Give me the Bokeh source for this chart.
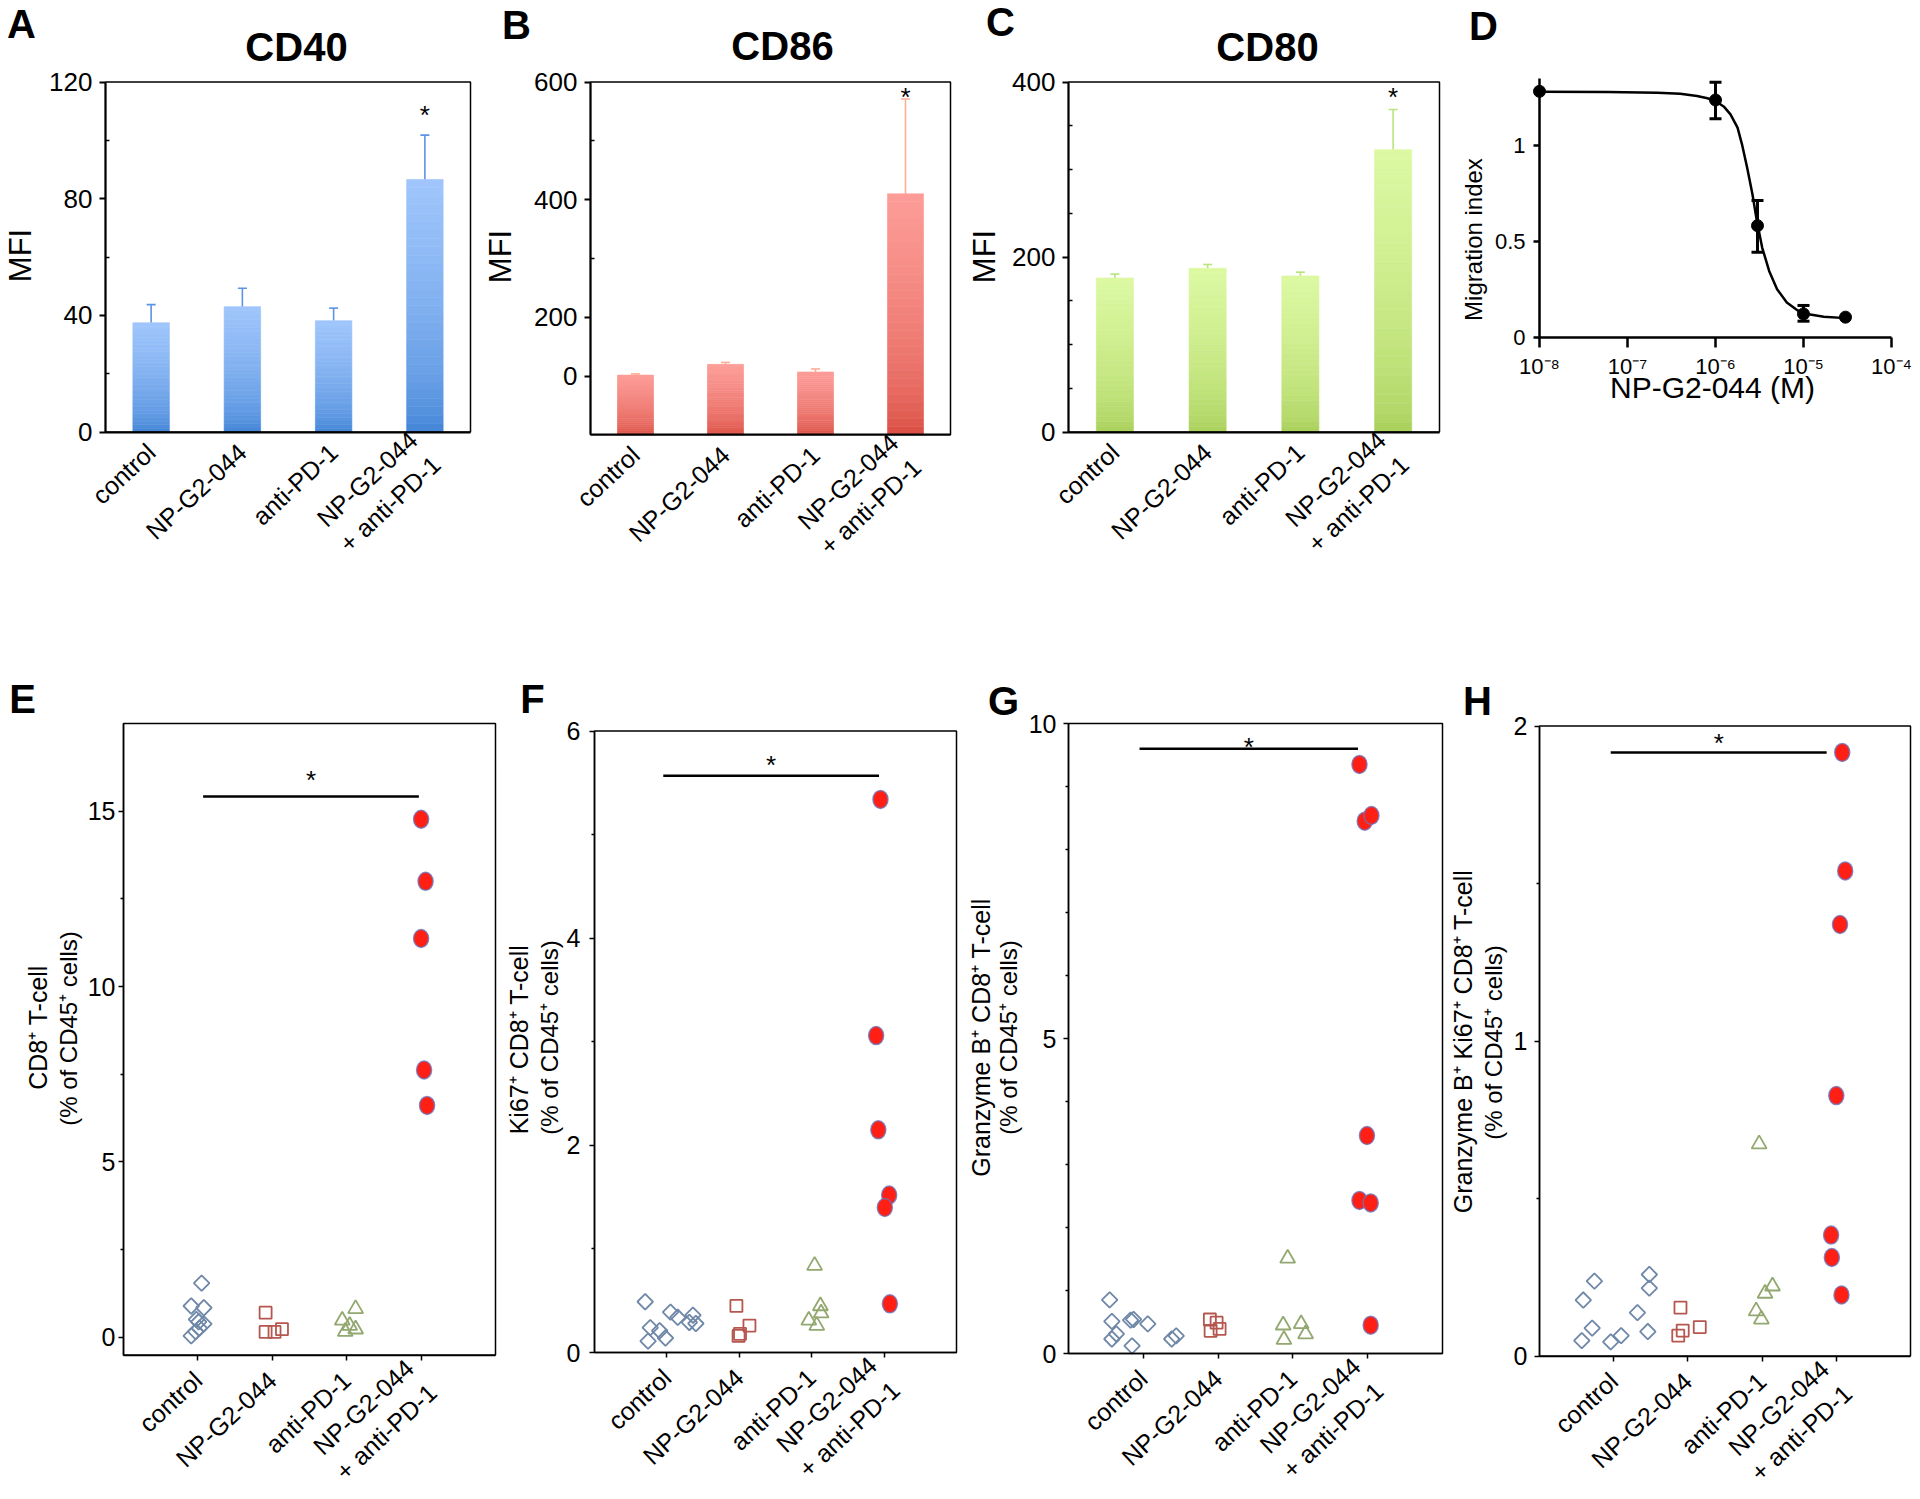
import math
from bokeh.plotting import figure
from bokeh.models import (FixedTicker, Label, Whisker, TeeHead, ColumnDataSource, Range1d,
                          BoxAnnotation)
from bokeh.layouts import row, column
from bokeh.embed import file_html
from bokeh.resources import INLINE
from bokeh.core.properties import value

# ---------------- data ----------------
groups = ["control", "NP-G2-044", "anti-PD-1", "NP-G2-044\n+ anti-PD-1"]

# A-C: mean MFI and upper end of the error bar
cd40_mfi = [37.5, 43.0, 38.2, 86.6]
cd40_upper = [43.7, 49.3, 42.5, 101.8]
cd86_mfi = [101.6, 119.8, 106.9, 409.8]
cd86_upper = [103.6, 123.1, 112.0, 571.2]
cd80_mfi = [176.1, 187.1, 178.4, 322.6]
cd80_upper = [180.6, 191.5, 182.7, 368.5]
cd86_tick_values = [100, 200, 400, 600]
cd86_tick_labels = ["0", "200", "400", "600"]

# D: migration index vs concentration
d_conc = [1e-8, 1e-6, 3e-6, 1e-5, 3e-5]
d_index = [1.283, 1.238, 0.583, 0.123, 0.106]
d_err_conc = [1e-6, 3e-6, 1e-5]
d_err_low = [1.14, 0.444, 0.085]
d_err_high = [1.33, 0.714, 0.167]
d_fit_conc = [1e-8, 5.9e-8, 2.19e-7, 3.98e-7, 6.17e-7, 8.1e-7, 1e-6, 1.26e-6, 1.48e-6,
              1.78e-6, 2.0e-6, 2.29e-6, 2.63e-6, 2.95e-6, 3.39e-6, 4.07e-6, 5.01e-6,
              6.46e-6, 8.51e-6, 1.1e-5, 1.7e-5, 3.0e-5]
d_fit_index = [1.281, 1.28, 1.276, 1.271, 1.259, 1.247, 1.233, 1.201, 1.163, 1.094, 1.007,
               0.885, 0.747, 0.608, 0.469, 0.347, 0.252, 0.182, 0.142, 0.122, 0.108, 0.101]
d_ticks = [1e-8, 1e-7, 1e-6, 1e-5, 1e-4]
d_tick_labels = ["10⁻⁸", "10⁻⁷", "10⁻⁶", "10⁻⁵", "10⁻⁴"]

# E-H: per group, horizontal jitter (in category units) and values
e_jitter = [[0.05, -0.09, 0.08, -0.02, 0.08, 0.02, -0.03, -0.09, 0.01],
            [-0.09, -0.09, 0.03, 0.13],
            [0.12, -0.06, 0.04, -0.02, 0.12],
            [0.0, 0.06, 0.0, 0.04, 0.08]]
e_values = [[1.54, 0.89, 0.84, 0.51, 0.38, 0.26, 0.16, 0.04, 0.44],
            [0.70, 0.15, 0.15, 0.23],
            [0.81, 0.48, 0.33, 0.16, 0.23],
            [14.77, 13.0, 11.37, 7.62, 6.61]]
f_jitter = [[-0.30, -0.23, -0.26, -0.10, -0.02, 0.05, 0.15, 0.36, 0.31, 0.40],
            [-0.04, 0.01, -0.01, 0.14],
            [0.04, 0.12, 0.13, -0.04, 0.07],
            [-0.05, -0.11, -0.08, 0.07, 0.01, 0.08]]
f_values = [[0.49, 0.24, 0.11, 0.21, 0.14, 0.39, 0.34, 0.36, 0.29, 0.28],
            [0.45, 0.18, 0.16, 0.26],
            [0.84, 0.45, 0.38, 0.31, 0.26],
            [5.34, 3.06, 2.15, 1.52, 1.40, 0.47]]
g_jitter = [[-0.45, -0.42, -0.36, -0.42, -0.17, -0.13, -0.15, 0.06, 0.38, 0.44],
            [-0.11, -0.02, 0.02, -0.10],
            [-0.07, -0.13, -0.12, 0.11, 0.17],
            [-0.11, -0.04, 0.05, -0.01, -0.11, 0.04, 0.04]]
g_values = [[0.85, 0.51, 0.31, 0.23, 0.53, 0.54, 0.12, 0.47, 0.23, 0.28],
            [0.54, 0.49, 0.39, 0.36],
            [1.51, 0.45, 0.22, 0.47, 0.31],
            [9.35, 8.45, 8.54, 3.46, 2.43, 2.39, 0.45]]
h_jitter = [[-0.43, -0.41, -0.29, -0.26, -0.04, 0.10, 0.32, 0.46, 0.48, 0.48],
            [-0.10, -0.07, -0.13, 0.16],
            [-0.04, 0.14, 0.04, -0.08, -0.01],
            [0.08, 0.12, 0.05, 0.00, -0.07, -0.06, 0.07]]
h_values = [[0.049, 0.178, 0.089, 0.238, 0.045, 0.065, 0.138, 0.078, 0.259, 0.216],
            [0.154, 0.081, 0.065, 0.092],
            [0.673, 0.222, 0.199, 0.143, 0.117],
            [1.916, 1.540, 1.370, 0.827, 0.384, 0.313, 0.194]]
# significance bar: [from, to, height, star height]
e_sig = [1.07, 3.97, 15.42, 16.05]
f_sig = [0.95, 3.93, 5.57, 5.73]
g_sig = [0.95, 3.87, 9.60, 9.72]
h_sig = [0.96, 3.87, 1.916, 1.966]

# ---------------- style / layout ----------------
FONT = "Liberation Sans"
Y1, H1 = 0, 600
Y2, H2 = Y1 + H1, 899
NSEG = 30


def hex2rgb(h):
    return tuple(int(h[i:i + 2], 16) for i in (1, 3, 5))


def mix(c0, c1, t):
    a, b = hex2rgb(c0), hex2rgb(c1)
    return "#%02x%02x%02x" % tuple(round(a[i] + (b[i] - a[i]) * t) for i in range(3))


class Panel:
    """A figure whose frame fills its canvas; the plot box (page px) maps to data bounds."""

    def __init__(self, cx0, cw, cy0, ch, box, xb, yb, xlog=False):
        l, r, t, b = box
        self.xlog = xlog
        X0, X1 = (math.log10(xb[0]), math.log10(xb[1])) if xlog else xb
        sx = (X1 - X0) / (r - l)
        xs, xe = X0 - (l - cx0) * sx, X1 + (cx0 + cw - r) * sx
        sy = (yb[1] - yb[0]) / (b - t)
        ys, ye = yb[0] - (cy0 + ch - b) * sy, yb[1] + (t - cy0) * sy
        self.cx0, self.cy0, self.cw, self.ch = cx0, cy0, cw, ch
        self.X = (xs, xe)
        self.Y = (ys, ye)
        if xlog:
            xs, xe = 10 ** xs, 10 ** xe
        p = figure(width=cw, height=ch, x_range=Range1d(xs, xe), y_range=Range1d(ys, ye),
                   x_axis_type="log" if xlog else "linear", output_backend="svg",
                   toolbar_location=None, tools="", min_border=0, min_border_left=0,
                   min_border_right=0, min_border_top=0, min_border_bottom=0)
        p.title.visible = False
        p.xgrid.visible = False
        p.ygrid.visible = False
        p.outline_line_color = None
        p.background_fill_color = "white"
        p.border_fill_color = "white"
        self.p = p
        self.xb, self.yb = xb, yb
        xa, ya = p.xaxis[0], p.yaxis[0]
        xa.fixed_location = yb[0]
        xa.bounds = xb
        ya.fixed_location = xb[0]
        ya.bounds = yb

    def box(self):
        self.p.add_layout(BoxAnnotation(left=self.xb[0], right=self.xb[1], bottom=self.yb[0],
                                        top=self.yb[1], fill_alpha=0, line_color="black",
                                        line_width=1.5, line_alpha=1))

    def text(self, px, py, text, size, bold=False, angle=0.0):
        fx = (px - self.cx0) / self.cw
        fy = (self.cy0 + self.ch - py) / self.ch
        x = self.X[0] + fx * (self.X[1] - self.X[0])
        if self.xlog:
            x = 10 ** x
        y = self.Y[0] + fy * (self.Y[1] - self.Y[0])
        self.p.add_layout(Label(x=x, y=y, text=text, text_font=FONT,
                                text_font_size=f"{size}px",
                                text_font_style="bold" if bold else "normal",
                                text_align="center", text_baseline="middle", angle=angle,
                                text_color="black"))


def style_y(ax, ticks, minor, size, standoff, tick_out=6, minor_in=0, minor_out=3, lw=2):
    ax.ticker = FixedTicker(ticks=ticks, minor_ticks=minor)
    ax.major_label_text_font = FONT
    ax.major_label_text_font_size = f"{size}px"
    ax.major_label_text_color = "black"
    ax.major_tick_out = tick_out
    ax.major_tick_in = 0
    ax.minor_tick_out = minor_out
    ax.minor_tick_in = minor_in
    ax.axis_line_width = lw
    ax.major_tick_line_width = lw
    ax.minor_tick_line_width = 1.5
    ax.axis_line_color = "black"
    ax.major_label_standoff = standoff


def style_x_cat(ax, orient, size, standoff, tick_out, lw=2):
    ax.ticker = FixedTicker(ticks=[1, 2, 3, 4])
    ax.major_label_overrides = {i + 1: g for i, g in enumerate(groups)}
    ax.major_label_orientation = orient
    ax.major_label_text_font = FONT
    ax.major_label_text_font_size = f"{size}px"
    ax.major_label_text_color = "black"
    ax.major_tick_out = tick_out
    ax.major_tick_in = 0
    ax.minor_tick_out = 0
    ax.minor_tick_in = 0
    ax.major_tick_line_width = lw
    ax.axis_line_width = lw
    ax.axis_line_color = "black"
    ax.major_label_standoff = standoff


def bar_panel(x0, w, box, yb, yticks, yminor, means, uppers, c_bot, c_top, c_err, star_y,
              letter, letter_xy, title, title_xy, ylab_xy, overrides=None):
    P = Panel(x0, w, Y1, H1, box, (0.5, 4.5), yb)
    p = P.p
    P.box()
    xs = [1, 2, 3, 4]
    base = yb[0]
    bx, bb, bt, bc = [], [], [], []
    for x, v in zip(xs, means):
        for k in range(NSEG):
            bx.append(x)
            bb.append(base + (v - base) * k / NSEG)
            bt.append(base + (v - base) * (k + 1) / NSEG)
            bc.append(mix(c_bot, c_top, ((k + 0.5) / NSEG) ** 0.55))
    p.vbar(x=bx, bottom=bb, top=bt, width=0.4, fill_color=bc, line_color=bc, line_width=0.6)
    src = ColumnDataSource(dict(x=xs, lo=means, hi=uppers))
    p.add_layout(Whisker(source=src, base="x", lower="lo", upper="hi", dimension="height",
                         line_color=c_err, line_width=1.6, lower_head=None,
                         upper_head=TeeHead(size=9, line_color=c_err, line_width=1.6)))
    p.text(x=[4], y=[star_y], text=["*"], text_font=value(FONT), text_font_size="26px",
           text_align="center", text_baseline="middle", y_offset=6, text_color="black")
    style_y(p.yaxis[0], yticks, yminor, 26, 7, tick_out=6, minor_in=4, minor_out=0)
    if overrides:
        p.yaxis[0].major_label_overrides = overrides
    style_x_cat(p.xaxis[0], 0.75, 25, 16, 0)
    P.text(letter_xy[0], letter_xy[1], letter, 40, bold=True)
    P.text(title_xy[0], title_xy[1], title, 40, bold=True)
    P.text(ylab_xy[0], ylab_xy[1], "MFI", 31, angle=math.pi / 2)
    return p


def dot_panel(x0, w, box, yb, yticks, yminor, jitter, vals, sig, standoff,
              letter, letter_xy, ylab1, ylab1_xy, ylab2, ylab2_xy):
    P = Panel(x0, w, Y2, H2, box, (0, 5), yb)
    p = P.p
    P.box()
    xs = [[gi + 1 + o for o in jitter[gi]] for gi in range(4)]
    p.scatter(xs[0], vals[0], marker="square", angle=math.pi / 4, size=11, fill_alpha=0,
              line_color="#7088a8", line_width=1.8)
    p.scatter(xs[1], vals[1], marker="square", size=12, fill_alpha=0,
              line_color="#b5574f", line_width=1.8)
    p.scatter(xs[2], vals[2], marker="triangle", size=15, fill_alpha=0,
              line_color="#93a870", line_width=1.8)
    p.ellipse(x=xs[3], y=vals[3], width=15, height=18, width_units="screen",
              height_units="screen", fill_color="#ff1f14", line_color="#6e72b8",
              line_width=1.5, line_alpha=0.8)
    p.segment(x0=[sig[0]], y0=[sig[2]], x1=[sig[1]], y1=[sig[2]], line_width=2.5, color="black")
    p.text(x=[(sig[0] + sig[1]) / 2], y=[sig[3]], text=["*"], text_font=value(FONT),
           text_font_size="26px", text_align="center", text_baseline="middle", y_offset=6,
           text_color="black")
    style_y(p.yaxis[0], yticks, yminor, 25, standoff, tick_out=5, minor_in=0, minor_out=3, lw=1.5)
    style_x_cat(p.xaxis[0], 0.75, 25, 16, 5, lw=1.5)
    P.text(letter_xy[0], letter_xy[1], letter, 40, bold=True)
    P.text(ylab1_xy[0], ylab1_xy[1], ylab1, 25, angle=math.pi / 2)
    P.text(ylab2_xy[0], ylab2_xy[1], ylab2, 24, angle=math.pi / 2)
    return p


pA = bar_panel(0, 482, (105, 470, 81.5, 431.6), (0, 120), [0, 40, 80, 120], [20, 60, 100],
               cd40_mfi, cd40_upper, "#3b80d4", "#a0c6fc", "#5b93e6", 110.6,
               "A", (21, 23), "CD40", (296, 46), (20, 255))
pB = bar_panel(482, 480, (590, 950, 81.5, 434.3), (0, 600), cd86_tick_values, [300, 500],
               cd86_mfi, cd86_upper, "#d8483c", "#fd9d98", "#fbb094", 584,
               "B", (516, 24), "CD86", (782, 45), (500, 256),
               overrides=dict(zip(cd86_tick_values, cd86_tick_labels)))
pC = bar_panel(962, 488, (1068, 1439, 81.5, 431.6), (0, 400), [0, 200, 400],
               [50, 100, 150, 250, 300, 350],
               cd80_mfi, cd80_upper, "#a6cd56", "#dcf9a2", "#b8e47c", 389.5,
               "C", (1000, 21), "CD80", (1267, 46), (984, 256))

# D
PD = Panel(1450, 466, Y1, H1, (1539, 1891, 78, 337), (1e-8, 1e-4), (0, 1.35), xlog=True)
pD = PD.p
pD.line(d_fit_conc, d_fit_index, line_width=2.5, color="black")
pD.add_layout(Whisker(source=ColumnDataSource(dict(x=d_err_conc, lo=d_err_low, hi=d_err_high)),
                      base="x", lower="lo", upper="hi", dimension="height",
                      line_color="black", line_width=3,
                      lower_head=TeeHead(size=12, line_color="black", line_width=3),
                      upper_head=TeeHead(size=12, line_color="black", line_width=3)))
pD.scatter(d_conc, d_index, size=12, color="black")
xd = pD.xaxis[0]
xd.ticker = FixedTicker(ticks=d_ticks)
xd.major_label_overrides = dict(zip(d_ticks, d_tick_labels))
xd.major_label_text_font = FONT
xd.major_label_text_font_size = "22px"
xd.major_label_text_color = "black"
xd.major_tick_out = 10
xd.major_tick_in = 0
xd.minor_tick_out = 0
xd.minor_tick_in = 0
xd.axis_line_width = 2.5
xd.major_tick_line_width = 2.5
xd.major_label_standoff = 6
yd = pD.yaxis[0]
style_y(yd, [0, 0.5, 1], [], 22, 8, tick_out=6, lw=2.5)
yd.major_label_overrides = {0: "0", 0.5: "0.5", 1: "1"}
PD.text(1483, 25, "D", 40, bold=True)
PD.text(1473, 239, "Migration index", 24, angle=math.pi / 2)
PD.text(1712, 387, "NP-G2-044 (M)", 30)

pE = dot_panel(0, 500, (123, 495, 723, 1354.6), (-0.51, 17.5), [0, 5, 10, 15],
               [2.5, 7.5, 12.5], e_jitter, e_values, e_sig, 3, "E", (22, 698),
               "CD8⁺ T-cell", (37, 1027), "(% of CD45⁺ cells)", (68, 1028))
pF = dot_panel(500, 462, (594, 956, 730.6, 1352), (0, 6), [0, 2, 4, 6], [1, 3, 5],
               f_jitter, f_values, f_sig, 9, "F", (532, 698),
               "Ki67⁺ CD8⁺ T-cell", (518, 1039), "(% of CD45⁺ cells)", (549, 1037))
pG = dot_panel(962, 486, (1068, 1442, 723, 1353), (0, 10), [0, 5, 10],
               [1, 2, 3, 4, 6, 7, 8, 9],
               g_jitter, g_values, g_sig, 7, "G", (1003, 700),
               "Granzyme B⁺ CD8⁺ T-cell", (980, 1037), "(% of CD45⁺ cells)", (1008, 1037))
pH = dot_panel(1448, 468, (1539, 1910, 725.5, 1355.6), (0, 2), [0, 1, 2], [0.5, 1.5],
               h_jitter, h_values, h_sig, 7, "H", (1477, 700),
               "Granzyme B⁺ Ki67⁺ CD8⁺ T-cell", (1462, 1041), "(% of CD45⁺ cells)", (1493, 1042))

layout = column(row(pA, pB, pC, pD), row(pE, pF, pG, pH))
open("out.html", "w").write(file_html(layout, INLINE))
